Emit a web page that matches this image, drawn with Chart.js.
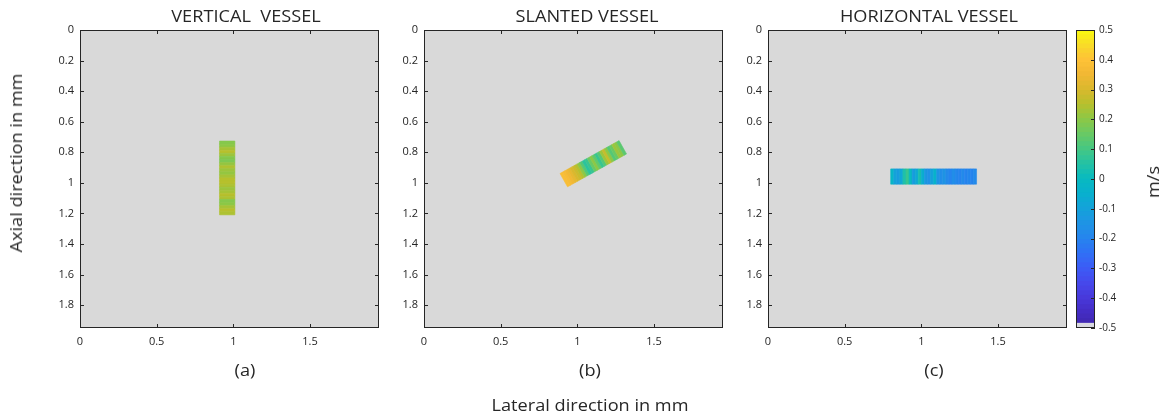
<!DOCTYPE html>
<html>
<head>
<meta charset="utf-8">
<script src="https://cdn.jsdelivr.net/npm/chart.js@4.4.1/dist/chart.umd.min.js"></script>
<style>
  body{margin:0;background:#fff;width:1167px;height:416px;overflow:hidden;position:relative;font-family:"Open Sans",sans-serif;color:#262626}
  canvas{position:absolute;left:0;top:0}
  .lbl{position:absolute;white-space:pre;transform:translate(-50%,-50%) scaleX(1.135);font-size:16px;line-height:1}
  .rot{transform:translate(-50%,-50%) rotate(-90deg) scaleX(1.135)}
</style>
</head>
<body>
<canvas id="panelA" width="1167" height="416"></canvas>
<canvas id="panelB" width="1167" height="416"></canvas>
<canvas id="panelC" width="1167" height="416"></canvas>
<canvas id="colorbar" width="1167" height="416"></canvas>

<div class="lbl" style="left:246px;top:16px">VERTICAL  VESSEL</div>
<div class="lbl" style="left:587px;top:16px">SLANTED VESSEL</div>
<div class="lbl" style="left:929px;top:16px">HORIZONTAL VESSEL</div>
<div class="lbl" style="left:245px;top:370px">(a)</div>
<div class="lbl" style="left:590px;top:370px">(b)</div>
<div class="lbl" style="left:934px;top:370px">(c)</div>
<div class="lbl" style="left:590px;top:405px">Lateral direction in mm</div>
<div class="lbl rot" style="left:16px;top:163px">Axial direction in mm</div>
<div class="lbl rot" style="left:1153px;top:182px">m/s</div>

<script>
// ---------- data ----------
const xTicks = [0, 0.5, 1, 1.5];
const xTickLabels = ['0', '0.5', '1', '1.5'];
const yTicks = [0, 0.2, 0.4, 0.6, 0.8, 1, 1.2, 1.4, 1.6, 1.8];
const yTickLabels = ['0', '0.2', '0.4', '0.6', '0.8', '1', '1.2', '1.4', '1.6', '1.8'];
const cbTicks = [-0.5, -0.4, -0.3, -0.2, -0.1, 0, 0.1, 0.2, 0.3, 0.4, 0.5];
const cbTickLabels = ['-0.5', '-0.4', '-0.3', '-0.2', '-0.1', '0', '0.1', '0.2', '0.3', '0.4', '0.5'];

// vessel geometry in mm (centre, length, width, direction of the axis in degrees)
const vesselCx = [0.96, 1.104, 1.08];
const vesselCy = [0.968, 0.875, 0.959];
const vesselLen = [0.483, 0.441, 0.56];
const vesselWid = [0.1, 0.1, 0.1];
const vesselAngle = [-90, 29.2, 0];

// velocity in m/s sampled along each vessel axis
const velVertical = [0.19, 0.2, 0.23, 0.25, 0.22, 0.19, 0.18, 0.21, 0.24, 0.22, 0.21, 0.23,
                     0.25, 0.25, 0.24, 0.22, 0.23, 0.25, 0.24, 0.19, 0.2, 0.23, 0.25, 0.24];
const velSlanted = [0.38, 0.37, 0.35, 0.33, 0.3, 0.28, 0.25, 0.2, 0.12, 0.06, 0.08, 0.15,
                    0.2, 0.14, 0.08, 0.12, 0.22, 0.27, 0.2, 0.12, 0.15, 0.22, 0.2, 0.13];
const velHorizontal = [-0.02, -0.1, -0.12, -0.08, 0.04, 0.08, 0.0, -0.12, -0.08, 0.03, -0.06, -0.14,
                       -0.16, -0.1, -0.04, -0.15, -0.17, -0.15, -0.18, -0.2, -0.17, -0.19, -0.2, -0.18,
                       -0.2, -0.19, -0.2, -0.18];
const velocities = [velVertical, velSlanted, velHorizontal];

// ---------- colormap (parula-like) ----------
const cmapVals = [-0.5, -0.45, -0.4, -0.35, -0.3, -0.25, -0.2, -0.15, -0.1, -0.05, 0,
                  0.05, 0.1, 0.15, 0.2, 0.25, 0.3, 0.35, 0.4, 0.45, 0.5];
const cmapRGB = [[62,38,168],[68,44,195],[72,56,218],[70,72,236],[60,92,246],[48,112,246],
                 [38,132,238],[30,148,228],[20,162,218],[8,176,206],[8,186,192],[36,194,164],
                 [70,199,130],[105,201,100],[140,200,70],[183,192,45],[218,184,45],[242,184,52],
                 [254,194,55],[248,220,40],[249,251,14]];
const BG = '#d9d9d9';
const INK = '#262626';
const FONT = '"Open Sans", sans-serif';

function colorFor(v){
  v = Math.max(-0.5, Math.min(0.5, v));
  let i = 0;
  while(i < cmapVals.length - 2 && v > cmapVals[i+1]) i++;
  const t = (v - cmapVals[i]) / (cmapVals[i+1] - cmapVals[i]);
  const a = cmapRGB[i], b = cmapRGB[i+1];
  const c = a.map((x, k) => Math.round(x + (b[k] - x) * t));
  return `rgb(${c[0]},${c[1]},${c[2]})`;
}

// ---------- plugins ----------
const panelPlugin = {
  id: 'panel',
  beforeDatasetsDraw(chart, args, opts){
    const {ctx, chartArea: a, scales: {x, y}} = chart;
    ctx.save();
    ctx.fillStyle = BG;
    ctx.fillRect(a.left, a.top, a.right - a.left, a.bottom - a.top);

    const k = opts.index;
    const vals = velocities[k];
    const ang = vesselAngle[k] * Math.PI / 180;
    const dx = Math.cos(ang), dy = -Math.sin(ang);   // along the vessel
    const nx = -dy, ny = dx;                          // across the vessel
    const L = vesselLen[k], hw = vesselWid[k] / 2, n = vals.length;
    const P = (px, py) => [x.getPixelForValue(px), y.getPixelForValue(py)];
    vals.forEach((v, i) => {
      const t0 = -L / 2 + L * i / n, t1 = -L / 2 + L * (i + 1) / n;
      const cx0 = vesselCx[k] + dx * t0, cy0 = vesselCy[k] + dy * t0;
      const cx1 = vesselCx[k] + dx * t1, cy1 = vesselCy[k] + dy * t1;
      const pts = [P(cx0 + nx*hw, cy0 + ny*hw), P(cx1 + nx*hw, cy1 + ny*hw),
                   P(cx1 - nx*hw, cy1 - ny*hw), P(cx0 - nx*hw, cy0 - ny*hw)];
      ctx.beginPath();
      pts.forEach((p, j) => j ? ctx.lineTo(p[0], p[1]) : ctx.moveTo(p[0], p[1]));
      ctx.closePath();
      ctx.fillStyle = colorFor(v);
      ctx.strokeStyle = ctx.fillStyle;
      ctx.lineWidth = 0.6;
      ctx.fill();
      ctx.stroke();
    });
    ctx.restore();
  },
  afterDraw(chart){
    const {ctx, chartArea: a, scales: {x, y}} = chart;
    ctx.save();
    ctx.strokeStyle = INK;
    ctx.lineWidth = 1;
    ctx.strokeRect(a.left + 0.5, a.top + 0.5, a.right - a.left - 1, a.bottom - a.top - 1);
    ctx.beginPath();
    xTicks.forEach(v => {
      const px = Math.round(x.getPixelForValue(v)) + 0.5;
      ctx.moveTo(px, a.bottom); ctx.lineTo(px, a.bottom - 4);
      ctx.moveTo(px, a.top); ctx.lineTo(px, a.top + 4);
    });
    yTicks.forEach(v => {
      const py = Math.round(y.getPixelForValue(v)) + 0.5;
      ctx.moveTo(a.left, py); ctx.lineTo(a.left + 4, py);
      ctx.moveTo(a.right, py); ctx.lineTo(a.right - 4, py);
    });
    ctx.stroke();
    ctx.restore();
  }
};

const colorbarPlugin = {
  id: 'cbFrame',
  afterDraw(chart){
    const {ctx, chartArea: a, scales: {y}} = chart;
    ctx.save();
    ctx.strokeStyle = INK;
    ctx.lineWidth = 1;
    ctx.strokeRect(a.left + 0.5, a.top + 0.5, a.right - a.left - 1, a.bottom - a.top - 1);
    ctx.beginPath();
    cbTicks.forEach(v => {
      const py = Math.round(y.getPixelForValue(v)) + 0.5;
      ctx.moveTo(a.right, py); ctx.lineTo(a.right - 4, py);
    });
    ctx.stroke();
    ctx.restore();
  }
};

// ---------- panels ----------
const panelIds = ['panelA', 'panelB', 'panelC'];
const panelLeft = [80, 424, 768];   // chart area left edge in px
const PLOT_W = 299;

panelIds.forEach((id, k) => {
  const ctx = document.getElementById(id).getContext('2d');
  new Chart(ctx, {
    type: 'scatter',
    data: { datasets: [{ data: [] }] },
    plugins: [panelPlugin],
    options: {
      responsive: false,
      animation: false,
      events: [],
      layout: { padding: { left: panelLeft[k] - 40, right: 1167 - panelLeft[k] - PLOT_W, top: 30, bottom: 58 } },
      plugins: { legend: { display: false }, tooltip: { enabled: false }, panel: { index: k } },
      scales: {
        x: {
          type: 'linear', min: 0, max: 1.95,
          afterBuildTicks: s => { s.ticks = xTicks.map(v => ({ value: v })); },
          afterFit: s => { s.height = 30; },
          grid: { display: false, drawTicks: false },
          border: { display: false },
          ticks: { callback: (v, i) => xTickLabels[i], font: { family: FONT, size: 11 }, color: INK,
                   padding: 7, maxRotation: 0, autoSkip: false }
        },
        y: {
          type: 'linear', min: 0, max: 1.95, reverse: true,
          afterBuildTicks: s => { s.ticks = yTicks.map(v => ({ value: v })); },
          afterFit: s => { s.width = 40; },
          grid: { display: false, drawTicks: false },
          border: { display: false },
          ticks: { callback: (v, i) => yTickLabels[i], font: { family: FONT, size: 11 }, color: INK,
                   padding: 6, autoSkip: false }
        }
      }
    }
  });
});

// ---------- colorbar ----------
const NBINS = 64;
const cbDatasets = [];
for(let i = 0; i < NBINS; i++){
  const lo = -0.5 + i / NBINS, hi = -0.5 + (i + 1) / NBINS;
  cbDatasets.push({
    data: [[lo, hi]],
    backgroundColor: i === 0 ? '#d9d9e0' : colorFor((lo + hi) / 2),
    borderWidth: 0,
    grouped: false,
    barPercentage: 1,
    categoryPercentage: 1,
    inflateAmount: 0.5
  });
}
new Chart(document.getElementById('colorbar').getContext('2d'), {
  type: 'bar',
  data: { labels: [''], datasets: cbDatasets },
  plugins: [colorbarPlugin],
  options: {
    responsive: false,
    animation: false,
    events: [],
    layout: { padding: { left: 1076, right: 1167 - 1095 - 40, top: 30, bottom: 88 } },
    plugins: { legend: { display: false }, tooltip: { enabled: false } },
    scales: {
      x: { display: false },
      y: {
        position: 'right', min: -0.5, max: 0.5,
        afterBuildTicks: s => { s.ticks = cbTicks.map(v => ({ value: v })); },
        afterFit: s => { s.width = 40; },
        grid: { display: false, drawTicks: false },
        border: { display: false },
        ticks: { callback: (v, i) => cbTickLabels[i], font: { family: FONT, size: 10 }, color: INK,
                 padding: 4, autoSkip: false }
      }
    }
  }
});
</script>
</body>
</html>
